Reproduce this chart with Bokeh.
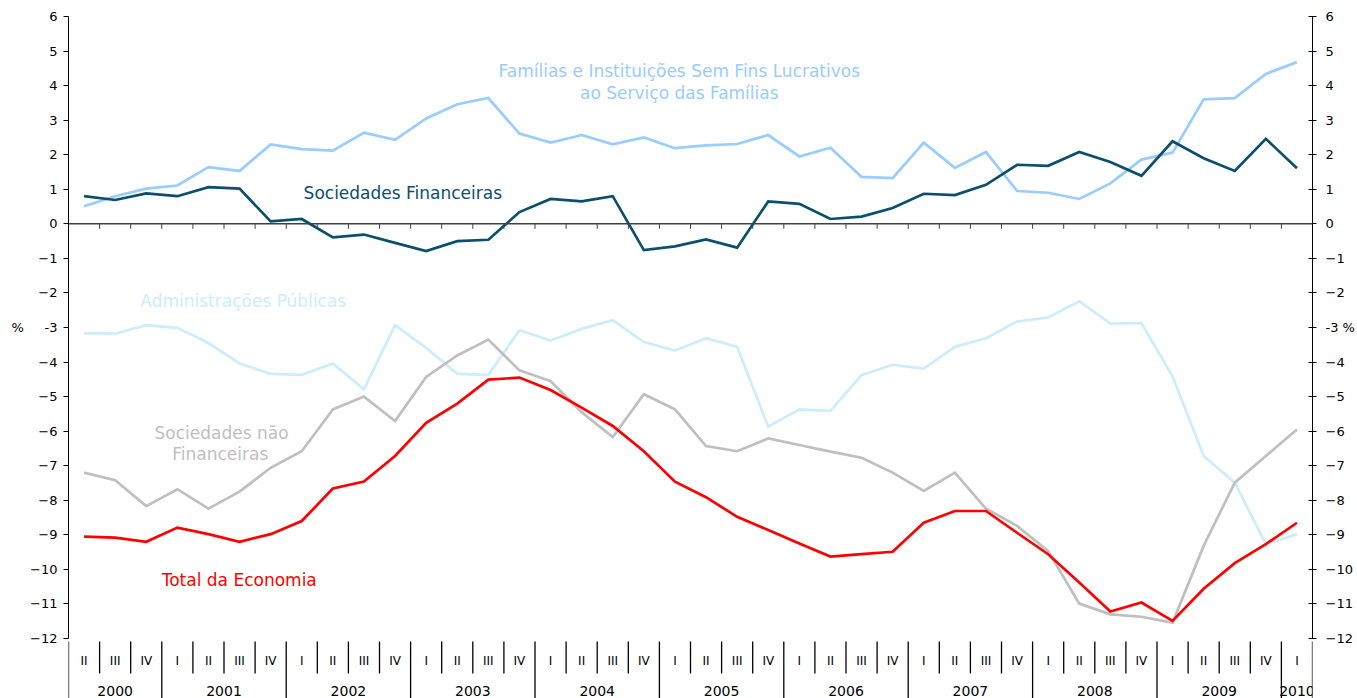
from bokeh.plotting import figure
from bokeh.models import Range1d, FixedTicker, LinearAxis, Span
from bokeh.core.properties import value
from bokeh.embed import file_html
from bokeh.resources import INLINE

# ---------------- data ----------------
quarters = ["II", "III", "IV"] + ["I", "II", "III", "IV"] * 9 + ["I"]
years = ["2000", "2001", "2002", "2003", "2004", "2005", "2006", "2007", "2008", "2009", "2010"]
quarters_per_year = [3, 4, 4, 4, 4, 4, 4, 4, 4, 4, 1]

familias = [0.51, 0.80, 1.02, 1.11, 1.64, 1.53, 2.30, 2.16, 2.12, 2.64,
            2.43, 3.05, 3.46, 3.64, 2.61, 2.35, 2.57, 2.30, 2.50, 2.19,
            2.27, 2.31, 2.57, 1.95, 2.20, 1.36, 1.32, 2.35, 1.62, 2.08,
            0.95, 0.90, 0.72, 1.17, 1.86, 2.06, 3.60, 3.64, 4.34, 4.68]
soc_financeiras = [0.80, 0.69, 0.88, 0.80, 1.06, 1.02, 0.07, 0.14, -0.39, -0.31,
                   -0.55, -0.79, -0.50, -0.46, 0.34, 0.72, 0.65, 0.80, -0.76, -0.65,
                   -0.45, -0.69, 0.65, 0.58, 0.14, 0.21, 0.46, 0.87, 0.83, 1.13,
                   1.71, 1.68, 2.08, 1.79, 1.39, 2.39, 1.90, 1.53, 2.46, 1.61]
admin_publicas = [-3.16, -3.18, -2.93, -3.01, -3.45, -4.04, -4.34, -4.37, -4.04, -4.79,
                  -2.93, -3.59, -4.34, -4.37, -3.08, -3.38, -3.04, -2.79, -3.42, -3.67,
                  -3.31, -3.56, -5.87, -5.37, -5.41, -4.38, -4.08, -4.19, -3.56, -3.31,
                  -2.83, -2.71, -2.24, -2.89, -2.87, -4.41, -6.72, -7.49, -9.27, -8.98]
soc_nao_financeiras = [-7.20, -7.42, -8.17, -7.68, -8.24, -7.75, -7.06, -6.58, -5.37, -5.00,
                       -5.71, -4.43, -3.81, -3.35, -4.24, -4.55, -5.45, -6.17, -4.93, -5.37,
                       -6.43, -6.58, -6.21, -6.40, -6.59, -6.77, -7.20, -7.73, -7.20, -8.24,
                       -8.74, -9.47, -10.99, -11.30, -11.37, -11.54, -9.32, -7.49, -6.72, -5.95]
total_economia = [-9.05, -9.08, -9.20, -8.79, -8.98, -9.20, -8.98, -8.60, -7.66, -7.46,
                  -6.72, -5.76, -5.20, -4.51, -4.45, -4.81, -5.32, -5.85, -6.58, -7.46,
                  -7.91, -8.48, -8.86, -9.25, -9.63, -9.56, -9.49, -8.65, -8.31, -8.31,
                  -8.94, -9.56, -10.38, -11.22, -10.96, -11.49, -10.56, -9.82, -9.27, -8.65]

y_ticks = list(range(-12, 7))

# ---------------- styling ----------------
FONT = "DejaVu Sans"
C_FAM = "#99CCFF"
C_SF = "#0B4F6C"
C_ADM = "#CCECFF"
C_SNF = "#BFBFBF"
C_TOT = "#FF0000"
NB = "\u00a0"

n = len(quarters)
x = list(range(n))
Y_MIN, Y_MAX = -12, 6
px_per_unit = 682 / ((Y_MAX - Y_MIN) + 60 / 34.556)
Y_BOTTOM = Y_MIN - 60 / 34.556

p = figure(frame_width=1244, frame_height=682,
           x_range=Range1d(-0.5, n - 0.5), y_range=Range1d(Y_BOTTOM, Y_MAX),
           output_backend="svg", toolbar_location=None,
           x_axis_location=None, y_axis_location=None,
           min_border_left=68, min_border_right=45, min_border_top=16, min_border_bottom=0,
           outline_line_color=None, background_fill_color="white", border_fill_color="white")
p.grid.visible = False

for side in ("left", "right"):
    ax = LinearAxis(ticker=FixedTicker(ticks=y_ticks), bounds=(Y_MIN, Y_MAX))
    ax.axis_line_color = "black"
    ax.axis_line_width = 1
    ax.major_tick_line_color = "black"
    ax.minor_tick_line_color = None
    ax.major_label_text_font = FONT
    ax.major_label_text_font_size = "13px"
    ax.major_label_text_color = "black"
    if side == "left":
        ax.major_tick_out = 5
        ax.major_tick_in = 0
        ax.major_label_standoff = 6
        ax.major_label_overrides = {-3: "%" + NB * 5 + "-3"}
    else:
        ax.major_tick_out = 4
        ax.major_tick_in = 4
        ax.major_label_standoff = 9
        ax.major_label_overrides = {-3: "-3" + NB + "%"}
    p.add_layout(ax, side)

# zero line with downward ticks at quarter boundaries
p.add_layout(Span(location=0, dimension="width", line_color="#404040", line_width=1.5))
inner_bounds = [i + 0.5 for i in range(n - 1)]
p.segment(x0=inner_bounds, y0=[0] * len(inner_bounds), x1=inner_bounds,
          y1=[-5 / px_per_unit] * len(inner_bounds), line_color="#404040", line_width=1)

# series
for vals, col in [(admin_publicas, C_ADM), (soc_nao_financeiras, C_SNF), (familias, C_FAM),
                  (soc_financeiras, C_SF), (total_economia, C_TOT)]:
    p.line(x, vals, line_color=col, line_width=2.7, line_join="miter")

# category axis: separators and labels
year_start = []
s = 0
for k in quarters_per_year:
    year_start.append(s)
    s += k
all_bounds = [i - 0.5 for i in range(n + 1)]
long_b = [b for b in all_bounds if (b + 0.5) in year_start or b + 0.5 == n]
short_b = [b for b in all_bounds if b not in long_b]
p.segment(x0=short_b, y0=[Y_MIN - 3 / px_per_unit] * len(short_b), x1=short_b,
          y1=[Y_MIN - 35 / px_per_unit] * len(short_b), line_color="black", line_width=1.3)
p.segment(x0=long_b, y0=[Y_MIN - 3 / px_per_unit] * len(long_b), x1=long_b,
          y1=[Y_BOTTOM - 1] * len(long_b), line_color="black", line_width=1.3)

p.text(x=x, y=[Y_MIN - 22 / px_per_unit] * n, text=quarters, text_align="center",
       text_baseline="middle", text_font=value(FONT), text_font_size="12px", text_color="black")
year_centers = [year_start[j] + (quarters_per_year[j] - 1) / 2 for j in range(len(years))]
p.text(x=year_centers, y=[Y_MIN - 52 / px_per_unit] * len(years), text=years, text_align="center",
       text_baseline="middle", text_font=value(FONT), text_font_size="14px", text_color="black")

# series labels
def lab(xc, yc, txt, col):
    p.text(x=[xc], y=[yc], text=[txt], text_align="center", text_baseline="middle",
           text_font=value(FONT), text_font_size="17px", text_color=col)

lab(19.14, 4.41, "Famílias e Instituições Sem Fins Lucrativos", C_FAM)
lab(19.14, 3.78, "ao Serviço das Famílias", C_FAM)
lab(10.25, 0.88, "Sociedades Financeiras", C_SF)
lab(5.12, -2.24, "Administrações Públicas", C_ADM)
lab(4.42, -6.06, "Sociedades não", C_SNF)
lab(4.38, -6.67, "Financeiras", C_SNF)
lab(4.99, -10.32, "Total da Economia", C_TOT)

open("out.html", "w").write(file_html(p, INLINE))
